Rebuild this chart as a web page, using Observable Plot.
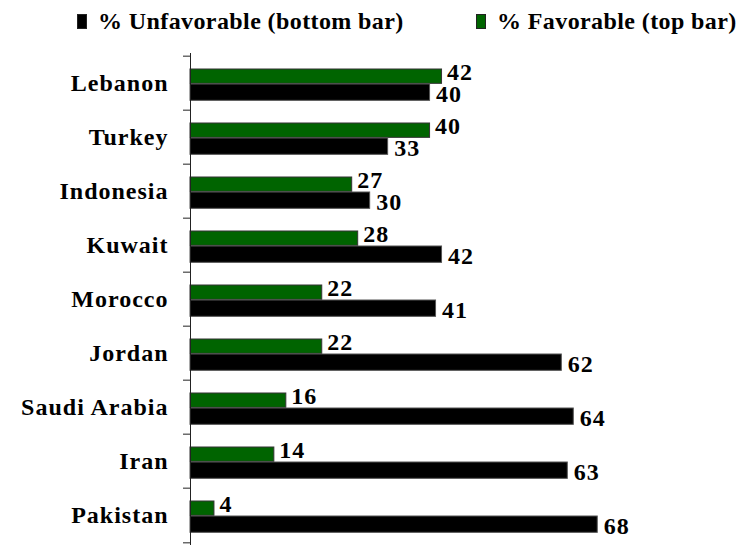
<!DOCTYPE html>
<html>
<head>
<meta charset="utf-8">
<script src="https://cdn.jsdelivr.net/npm/d3@7"></script>
<script src="https://cdn.jsdelivr.net/npm/@observablehq/plot@0.6"></script>
<style>
  html, body { margin: 0; padding: 0; background: #fff; }
  #wrap { width: 748px; font-family: 'Liberation Serif', serif; font-weight: bold; color: #000; }
  #legend { position: relative; width: 748px; height: 46px; }
  .sw { position: absolute; top: 14px; width: 10px; height: 15px; box-sizing: border-box; border: 1px solid #222; }
  .lt { position: absolute; top: 9px; font-family: 'Liberation Serif', serif; font-weight: bold; font-size: 24px; line-height: 24px; letter-spacing: 0.4px; white-space: pre; }
  svg { display: block; }
  #chart svg, #chart svg text { font-family: 'Liberation Serif', serif !important; font-weight: bold; }
</style>
</head>
<body>
<div id="wrap">
  <div id="legend"></div>
  <div id="chart"></div>
</div>
<script>
const countries = ["Lebanon", "Turkey", "Indonesia", "Kuwait", "Morocco", "Jordan", "Saudi Arabia", "Iran", "Pakistan"];
const favorable = [42, 40, 27, 28, 22, 22, 16, 14, 4];
const unfavorable = [40, 33, 30, 42, 41, 62, 64, 63, 68];
const seriesNames = ["% Unfavorable (bottom bar)", "% Favorable (top bar)"];
const colors = ["#000000", "#006400"];

// legend
const legend = document.getElementById("legend");
const legendPos = [[77, 98], [476, 497]];
seriesNames.forEach((name, i) => {
  const sw = document.createElement("div");
  sw.className = "sw";
  sw.style.left = legendPos[i][0] + "px";
  sw.style.background = colors[i];
  legend.appendChild(sw);
  const t = document.createElement("div");
  t.className = "lt";
  t.style.left = legendPos[i][1] + "px";
  t.textContent = name;
  legend.appendChild(t);
});

const data = countries.map((c, i) => ({country: c, fav: favorable[i], unfav: unfavorable[i]}));

const height = 500, mt = 7, mb = 1;
const bw = (height - mt - mb) / countries.length;

const chart = Plot.plot({
  width: 748,
  height,
  marginTop: mt,
  marginBottom: mb,
  marginLeft: 190,
  marginRight: 19,
  style: {fontFamily: "'Liberation Serif', serif", fontWeight: "bold", letterSpacing: "1px", color: "#000", background: "#fff"},
  x: {domain: [0, 90], axis: null},
  y: {domain: countries, padding: 0, label: null},
  marks: [
    Plot.barX(data, {x: "fav", y: "country", fill: colors[1], stroke: "#333", strokeWidth: 1, insetTop: 13, insetBottom: bw - 28}),
    Plot.barX(data, {x: "unfav", y: "country", fill: colors[0], stroke: "#555", strokeWidth: 1, insetTop: 28, insetBottom: bw - 45}),
    Plot.text(data, {x: "fav", y: "country", text: d => String(d.fav), dx: 5, dy: -11, textAnchor: "start", fontSize: 24, fill: "#000"}),
    Plot.text(data, {x: "unfav", y: "country", text: d => String(d.unfav), dx: 6, dy: 11, textAnchor: "start", fontSize: 24, fill: "#000"}),
    Plot.axisY({tickSize: 0, tickPadding: 22, fontSize: 24, label: null}),
    Plot.axisY({ticks: countries, text: null, tickSize: 7, dy: -bw / 2, stroke: "#222", label: null}),
    Plot.axisY({ticks: [countries[countries.length - 1]], text: null, tickSize: 7, dy: bw / 2, stroke: "#222", label: null}),
    Plot.ruleX([0], {stroke: "#222", strokeWidth: 1})
  ]
});
document.getElementById("chart").appendChild(chart);
</script>
</body>
</html>
